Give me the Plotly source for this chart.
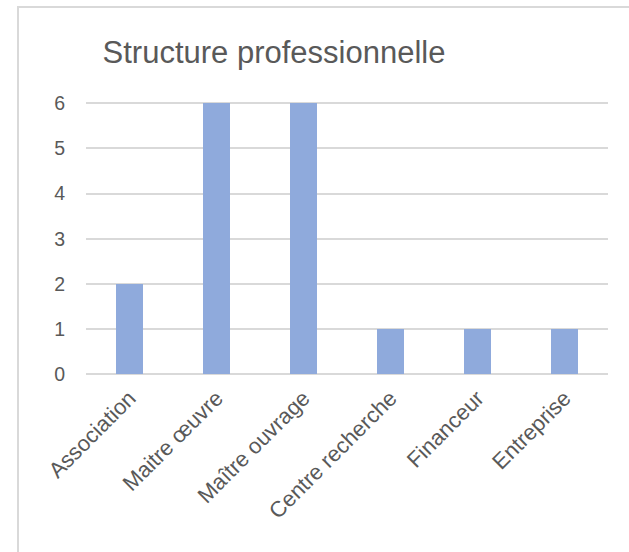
import plotly.graph_objects as go

categories = ["Association", "Maitre œuvre", "Maître ouvrage",
              "Centre recherche", "Financeur", "Entreprise"]
counts = [2, 6, 6, 1, 1, 1]
y_ticks = [0, 1, 2, 3, 4, 5, 6]

W, H = 629, 552
ml, mr, mt, mb = 86, 21, 102, 178
pw, ph = W - ml - mr, H - mt - mb


def px_x(p):
    return (p - ml) / pw


def px_y(p):
    return (H - mb - p) / ph


fig = go.Figure(go.Bar(
    x=categories, y=counts,
    marker=dict(color="#8FAADC", line=dict(width=0)),
    width=0.31,
))

fig.update_layout(
    width=W, height=H,
    margin=dict(l=ml, r=mr, t=mt, b=mb),
    paper_bgcolor="white", plot_bgcolor="white",
    font=dict(family="Liberation Sans, Arial, sans-serif", color="#595959"),
    title=dict(text="Structure professionnelle", x=274 / W, xanchor="center",
               y=1 - 52 / H, yanchor="middle",
               font=dict(size=31, color="#595959")),
    showlegend=False,
    bargap=0,
    xaxis=dict(tickangle=-45, tickfont=dict(size=22, color="#595959"),
               showgrid=False, showline=False, ticks="", ticklen=0,
               ticklabelstandoff=6),
    yaxis=dict(range=[0, 6.03], tickvals=y_ticks, tickfont=dict(size=19.5, color="#595959"),
               showgrid=True, gridcolor="#D9D9D9", gridwidth=1.5,
               zeroline=True, zerolinecolor="#D9D9D9", zerolinewidth=1.5,
               showline=False, ticks="", ticklabelstandoff=20),
    shapes=[dict(type="rect", xref="paper", yref="paper",
                 x0=px_x(18), x1=px_x(660), y0=px_y(580), y1=px_y(7),
                 line=dict(color="#D9D9D9", width=2), layer="below")],
)

fig.write_html("out.html")
